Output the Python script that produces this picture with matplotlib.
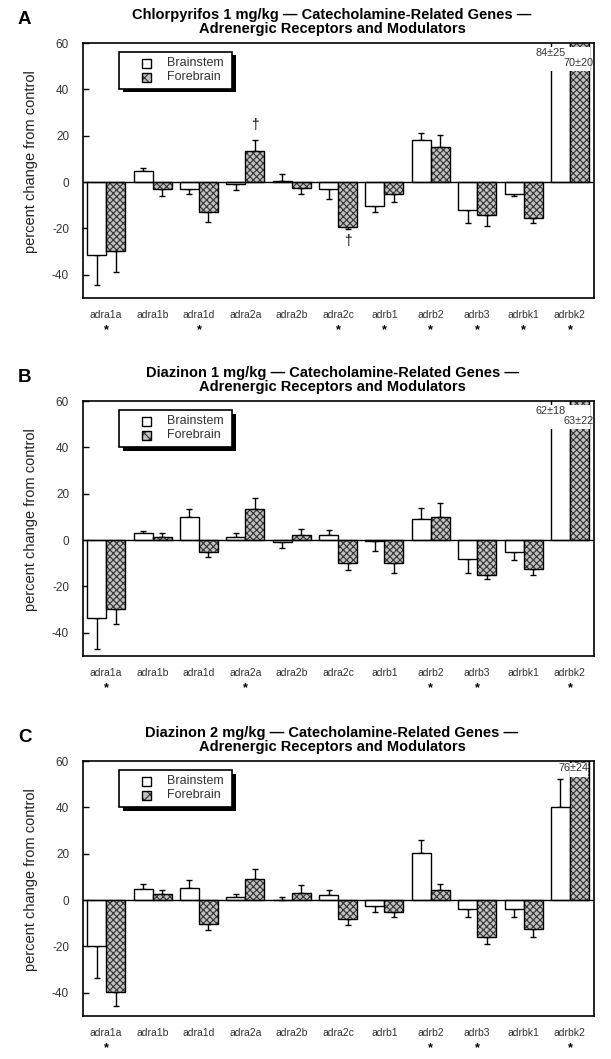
import matplotlib
matplotlib.use("Agg")
import matplotlib.pyplot as plt
import numpy as np
from matplotlib.patches import Rectangle

plt.rcParams['font.family'] = ['Liberation Sans', 'DejaVu Sans']
plt.rcParams['hatch.linewidth'] = 0.8
plt.rcParams['axes.unicode_minus'] = False

genes = ["adra1a", "adra1b", "adra1d", "adra2a", "adra2b", "adra2c",
         "adrb1", "adrb2", "adrb3", "adrbk1", "adrbk2"]

# Panel A: Chlorpyrifos 1 mg/kg
a_brain = [-31.6, 4.7, -3.1, -0.7, 0.6, -3.0, -10.3, 18.2, -12.0, -5.3, 84]
a_brain_err = [12.6, 1.5, 2.0, 2.9, 3.0, 4.4, 2.4, 2.8, 5.7, 0.7, 25]
a_fore = [-29.8, -2.8, -12.7, 13.2, -2.4, -19.2, -5.0, 15.0, -14.2, -15.7, 70]
a_fore_err = [9.0, 3.0, 4.4, 5.0, 2.6, 1.2, 3.5, 5.4, 4.9, 2.0, 20]
a_stars = [1, 0, 1, 0, 0, 1, 1, 1, 1, 1, 1]

# Panel B: Diazinon 1 mg/kg
b_brain = [-33.7, 2.9, 10.0, 1.4, -0.9, 2.2, -0.3, 9.0, -8.0, -5.2, 62]
b_brain_err = [13.3, 1.1, 3.3, 1.5, 2.3, 2.1, 4.3, 5.0, 6.3, 3.4, 18]
b_fore = [-29.8, 1.4, -5.2, 13.3, 2.2, -10.0, -10.0, 9.8, -15.0, -12.3, 63]
b_fore_err = [6.5, 1.5, 2.3, 5.0, 2.7, 2.9, 4.3, 6.3, 1.9, 2.7, 22]
b_stars = [1, 0, 0, 1, 0, 0, 0, 1, 1, 0, 1]

# Panel C: Diazinon 2 mg/kg
c_brain = [-19.8, 4.9, 5.0, 1.3, 0.1, 2.1, -2.6, 20.3, -3.7, -3.7, 40.1]
c_brain_err = [13.6, 2.1, 3.5, 1.4, 1.2, 2.1, 2.6, 5.5, 3.6, 3.6, 12.0]
c_fore = [-39.5, 2.7, -10.5, 9.2, 2.9, -8.0, -5.2, 4.2, -15.8, -12.3, 76]
c_fore_err = [6.3, 1.5, 2.4, 4.3, 3.4, 2.9, 2.1, 2.8, 3.2, 3.5, 24]
c_stars = [1, 0, 0, 0, 0, 0, 0, 1, 1, 0, 1]

titles = ["Chlorpyrifos 1 mg/kg \u2014 Catecholamine-Related Genes \u2014\nAdrenergic Receptors and Modulators",
          "Diazinon 1 mg/kg \u2014 Catecholamine-Related Genes \u2014\nAdrenergic Receptors and Modulators",
          "Diazinon 2 mg/kg \u2014 Catecholamine-Related Genes \u2014\nAdrenergic Receptors and Modulators"]
letters = ["A", "B", "C"]
legend_labels = ["Brainstem", "Forebrain"]

W, H = 611, 1059
fig = plt.figure(figsize=(W / 100, H / 100), dpi=100)

panels = [
    (a_brain, a_brain_err, a_fore, a_fore_err, a_stars),
    (b_brain, b_brain_err, b_fore, b_fore_err, b_stars),
    (c_brain, c_brain_err, c_fore, c_fore_err, c_stars),
]
tops_px = [43, 401, 761]
ax_h_px = 255
left_px, right_px = 83, 594
ax_w_px = right_px - left_px

YMIN, YMAX = -50, 60
bw = 0.41
hatch_face = '#c0c0c0'
hatch_col = '#333333'


def fx(px):
    return (px - left_px) / ax_w_px


def fy(py_off):
    # py_off: pixels below axes top
    return (ax_h_px - py_off) / ax_h_px


for i, (br, bre, fo, foe, st) in enumerate(panels):
    top = tops_px[i]
    ax = fig.add_axes([left_px / W, 1 - (top + ax_h_px) / H, ax_w_px / W, ax_h_px / H])
    x = np.arange(len(genes))
    br = np.array(br, float); fo = np.array(fo, float)
    bre = np.array(bre, float); foe = np.array(foe, float)

    ax.bar(x - bw / 2, br, width=bw, color='white', edgecolor='black', linewidth=1.0, zorder=2)
    ax.bar(x + bw / 2, fo, width=bw, color=hatch_face, edgecolor=hatch_col, hatch='xxxxx',
           linewidth=0, zorder=2)
    ax.bar(x + bw / 2, fo, width=bw, color='none', edgecolor='black', linewidth=1.0, zorder=2.1)

    def one_sided(v, e):
        lo = np.where(v < 0, e, 0)
        hi = np.where(v >= 0, e, 0)
        return [lo, hi]

    ax.errorbar(x - bw / 2, br, yerr=one_sided(br, bre), fmt='none', ecolor='black',
                elinewidth=1.0, capsize=2.5, capthick=1.0, zorder=1.8)
    ax.errorbar(x + bw / 2, fo, yerr=one_sided(fo, foe), fmt='none', ecolor='black',
                elinewidth=1.0, capsize=2.5, capthick=1.0, zorder=1.8)

    ax.axhline(0, color='black', linewidth=1.0, zorder=2.2)
    ax.set_xlim(-0.5, 10.52)
    ax.set_ylim(YMIN, YMAX)
    ax.set_yticks([-40, -20, 0, 20, 40, 60])
    ax.tick_params(axis='y', direction='in', length=4, width=1, labelsize=8.5,
                   labelcolor='#333333', pad=10)
    ax.set_xticks(x)
    ax.set_xticklabels(genes, fontsize=7.5, color='#333333')
    ax.tick_params(axis='x', length=0, pad=9)
    for s in ax.spines.values():
        s.set_linewidth(1.2)
    ax.set_ylabel("percent change from control", fontsize=10.5, color='#222222')
    ax.yaxis.set_label_coords(fx(38), 0.535)

    # stars below gene labels
    for k, s in enumerate(st):
        if s:
            ax.text(k, -0.127, "*", transform=ax.get_xaxis_transform(), ha='center',
                    va='center', fontsize=9, fontweight='bold')

    # off-scale annotations for adrbk2
    if i < 2:
        ax.add_patch(Rectangle((10 - bw - 0.02, 48), 2 * bw + 0.04, 10.4,
                               facecolor='white', edgecolor='none', zorder=3))
        ax.text(9.58, 55.7, f"{br[10]:.0f}\u00b1{bre[10]:.0f}", ha='center', va='center',
                fontsize=7.8, color='#333333', zorder=4)
        ax.text(10.18, 51.5, f"{fo[10]:.0f}\u00b1{foe[10]:.0f}", ha='center',
                va='center', fontsize=7.8, color='#333333', zorder=4)
    else:
        ax.add_patch(Rectangle((10 + 0.01, 53.3), bw - 0.02, 6.0,
                               facecolor='white', edgecolor='none', zorder=3))
        ax.text(10.07, 57.0, f"{fo[10]:.0f}\u00b1{foe[10]:.0f}", ha='center',
                va='center', fontsize=7.8, color='#333333', zorder=4)

    # daggers in panel A
    if i == 0:
        ax.text(3 + bw / 2, 24.5, "\u2020", ha='center', va='center', fontsize=10)
        ax.text(5 + bw / 2, -25.5, "\u2020", ha='center', va='center', fontsize=10)

    # legend (drawn manually to match the boxed legend with drop shadow)
    lx0, lx1 = fx(119), fx(232)
    ly_top, ly_bot = fy(9), fy(46)
    sh_dx = 3.5 / ax_w_px
    sh_dy = 3.5 / ax_h_px
    ax.add_patch(Rectangle((lx0 + sh_dx, ly_bot - sh_dy), lx1 - lx0, ly_top - ly_bot,
                           transform=ax.transAxes, facecolor='black', edgecolor='none',
                           zorder=5))
    ax.add_patch(Rectangle((lx0, ly_bot), lx1 - lx0, ly_top - ly_bot,
                           transform=ax.transAxes, facecolor='white', edgecolor='black',
                           linewidth=1.2, zorder=6))
    hs = 9.5
    for j, (lab, yc) in enumerate(zip(legend_labels, [20.5, 34.5])):
        if j == 0:
            ax.add_patch(Rectangle((fx(141.5), fy(yc + hs / 2)), hs / ax_w_px, hs / ax_h_px,
                                   transform=ax.transAxes, facecolor='white',
                                   edgecolor='black', linewidth=1.0, zorder=7))
        else:
            ax.add_patch(Rectangle((fx(141.5), fy(yc + hs / 2)), hs / ax_w_px, hs / ax_h_px,
                                   transform=ax.transAxes, facecolor=hatch_face,
                                   edgecolor=hatch_col, hatch='xxx', linewidth=0, zorder=7))
            ax.add_patch(Rectangle((fx(141.5), fy(yc + hs / 2)), hs / ax_w_px, hs / ax_h_px,
                                   transform=ax.transAxes, facecolor='none',
                                   edgecolor='black', linewidth=1.0, zorder=7.1))
        ax.text(fx(167), fy(yc), lab, transform=ax.transAxes, ha='left', va='center',
                fontsize=9, color='#333333', zorder=8)

    fig.text(332 / W, 1 - (top - 21) / H, titles[i], ha='center', va='center',
             fontsize=10.5, fontweight='bold', linespacing=1.0)
    fig.text(18 / W, 1 - (top - 24) / H, letters[i], ha='left', va='center',
             fontsize=13.5, fontweight='bold')

fig.savefig("out.png", dpi=100)
